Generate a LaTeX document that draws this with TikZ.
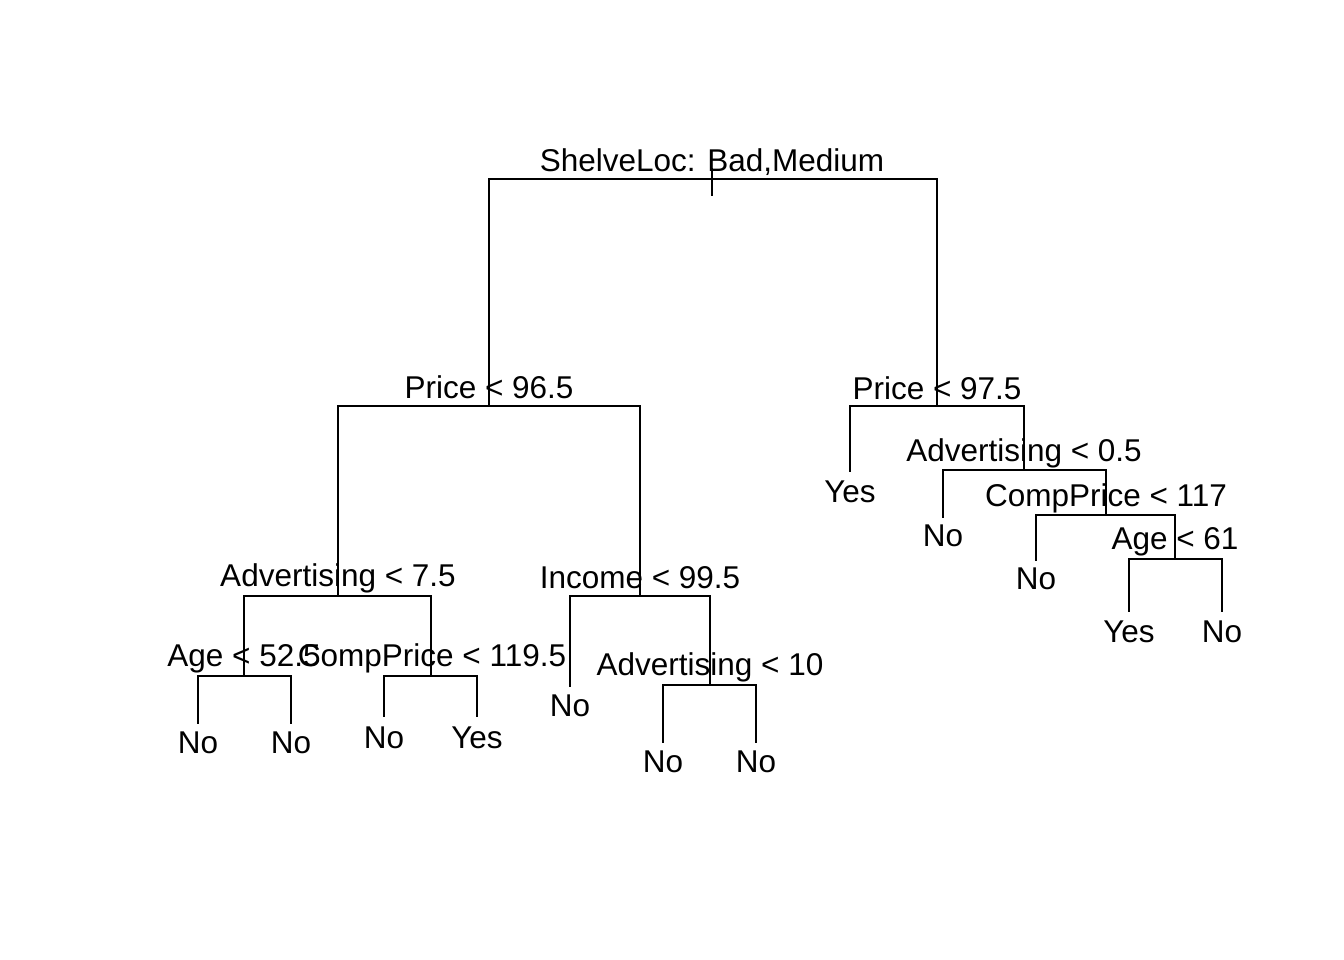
\documentclass[tikz,border=0pt]{standalone}
\usepackage{fontspec}
\setmainfont{Liberation Sans}
\begin{document}
\begin{tikzpicture}[x=1pt,y=-1pt,
  edge/.style={line width=2pt,line cap=rect},
  lbl/.style={anchor=base,inner sep=0pt,font=\fontsize{31.5}{36}\selectfont}]
\useasboundingbox (0,0) rectangle (1344,960);
% split nodes
\coordinate (rtop) at (712,169);
\coordinate (rbot) at (712,195);
\coordinate (root) at (712,179);
\coordinate (pL) at (489,406);
\coordinate (pR) at (937,406);
\coordinate (adv75) at (338,596);
\coordinate (inc) at (640,596);
\coordinate (age52) at (244,676);
\coordinate (cp119) at (431,676);
\coordinate (adv10) at (710,685);
\coordinate (adv05) at (1024,470);
\coordinate (cp117) at (1106,515);
\coordinate (age61) at (1175,559);
% leaves
\coordinate (l1) at (198,723);
\coordinate (l2) at (291,723);
\coordinate (l3) at (384,716);
\coordinate (l4) at (477,716);
\coordinate (l5) at (570,686);
\coordinate (l6) at (663,742);
\coordinate (l7) at (756,742);
\coordinate (l8) at (850,471);
\coordinate (l9) at (943,517);
\coordinate (l10) at (1036,560);
\coordinate (l11) at (1129,611);
\coordinate (l12) at (1222,611);
% edges
\draw[edge] (rtop) -- (rbot);
\draw[edge] (root) -| (pL);
\draw[edge] (root) -| (pR);
\draw[edge] (pL) -| (adv75);
\draw[edge] (pL) -| (inc);
\draw[edge] (adv75) -| (age52);
\draw[edge] (adv75) -| (cp119);
\draw[edge] (age52) -| (l1);
\draw[edge] (age52) -| (l2);
\draw[edge] (cp119) -| (l3);
\draw[edge] (cp119) -| (l4);
\draw[edge] (inc) -| (l5);
\draw[edge] (inc) -| (adv10);
\draw[edge] (adv10) -| (l6);
\draw[edge] (adv10) -| (l7);
\draw[edge] (pR) -| (l8);
\draw[edge] (pR) -| (adv05);
\draw[edge] (adv05) -| (l9);
\draw[edge] (adv05) -| (cp117);
\draw[edge] (cp117) -| (l10);
\draw[edge] (cp117) -| (age61);
\draw[edge] (age61) -| (l11);
\draw[edge] (age61) -| (l12);
% split labels
\node[lbl] (t0) at (712,172) {ShelveLoc: Bad,Medium};
\node[lbl] (t1) at (489,398) {Price < 96.5};
\node[lbl] (t2) at (937,399) {Price < 97.5};
\node[lbl] (t3) at (338,586) {Advertising < 7.5};
\node[lbl] (t4) at (640,588) {Income < 99.5};
\node[lbl] (t5) at (244,666) {Age < 52.5};
\node[lbl] (t6) at (432,666) {CompPrice < 119.5};
\node[lbl] (t7) at (710,675) {Advertising < 10};
\node[lbl] (t8) at (1024,461) {Advertising < 0.5};
\node[lbl] (t9) at (1106,506) {CompPrice < 117};
\node[lbl] (t10) at (1175,549) {Age < 61};
% leaf labels
\node[lbl] (f1) at (198,753) {No};
\node[lbl] (f2) at (291,753) {No};
\node[lbl] (f3) at (384,748) {No};
\node[lbl] (f4) at (477,748) {Yes};
\node[lbl] (f5) at (570,716) {No};
\node[lbl] (f6) at (663,772) {No};
\node[lbl] (f7) at (756,772) {No};
\node[lbl] (f8) at (850,502) {Yes};
\node[lbl] (f9) at (943,546) {No};
\node[lbl] (f10) at (1036,589) {No};
\node[lbl] (f11) at (1129,642) {Yes};
\node[lbl] (f12) at (1222,642) {No};
\end{tikzpicture}
\end{document}
